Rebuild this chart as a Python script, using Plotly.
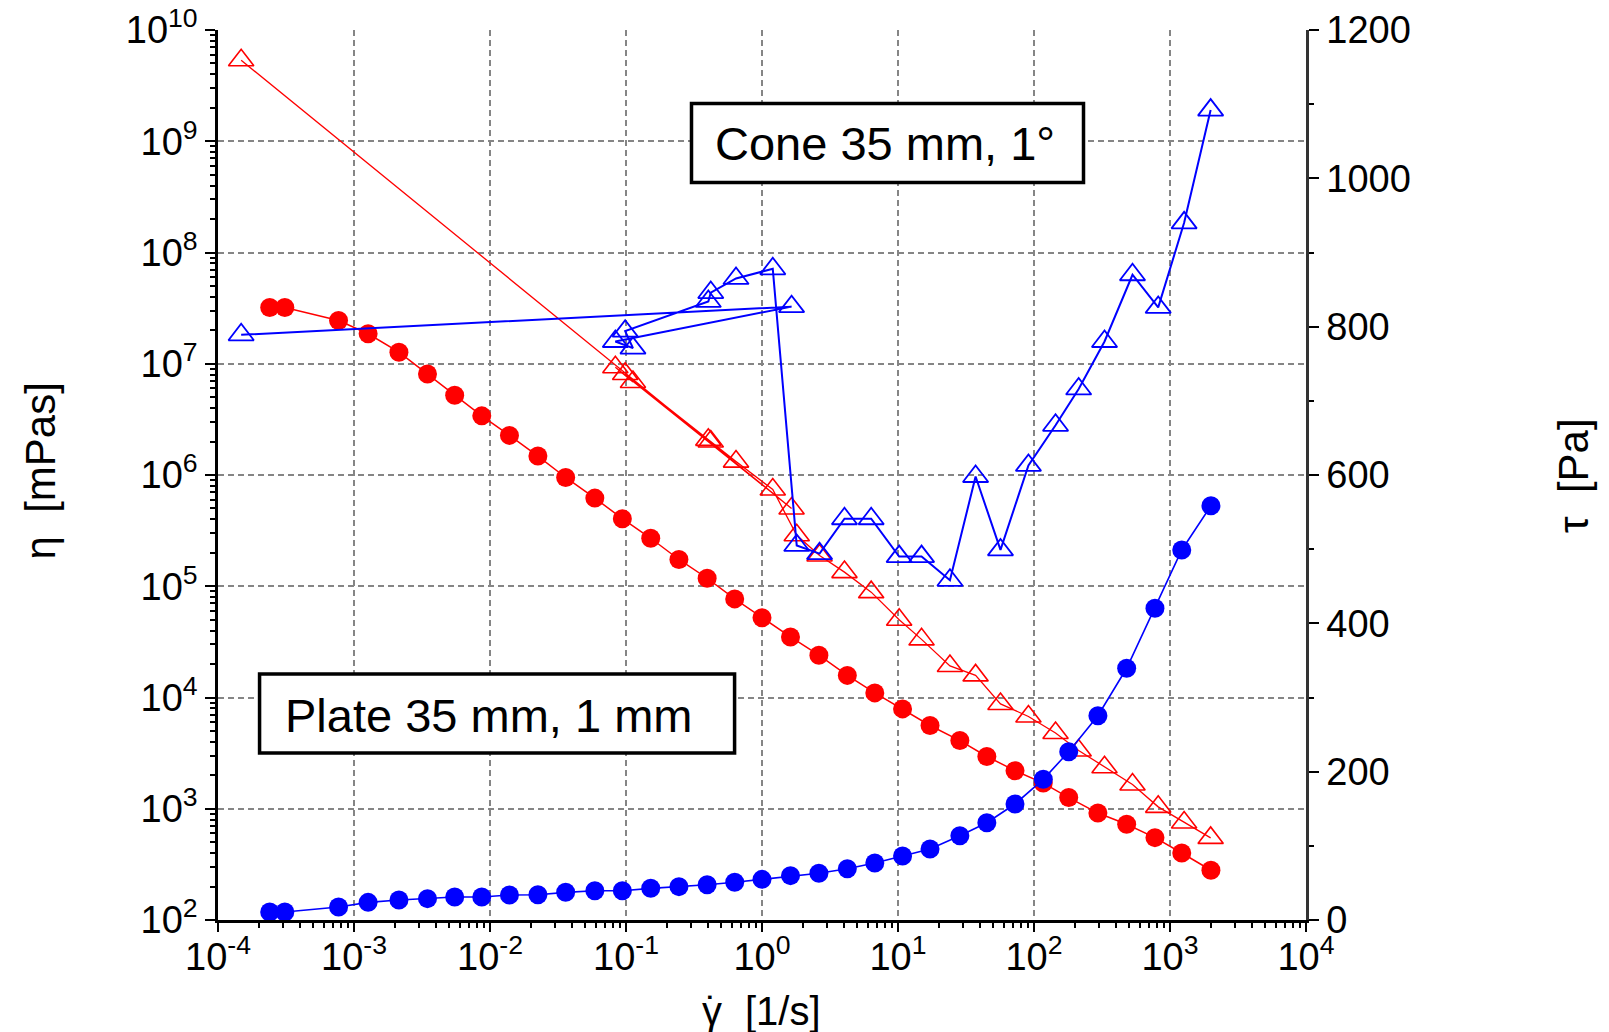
import plotly.graph_objects as go

# ---------------- data ----------------
# Plate 35 mm, 1 mm (shared shear rates)
plate_rate = [2.4e-4, 3.1e-4, 7.7e-4, 1.27e-3, 2.14e-3, 3.47e-3, 5.5e-3, 8.7e-3,
              1.39e-2, 2.25e-2, 3.6e-2, 5.9e-2, 9.4e-2, 0.152, 0.245, 0.395, 0.63,
              1.0, 1.62, 2.62, 4.24, 6.75, 10.8, 17.2, 28.5, 45, 72.5, 117, 180,
              295, 480, 775, 1220, 2000]
plate_eta = [3.2e7, 3.2e7, 2.45e7, 1.86e7, 1.27e7, 8.1e6, 5.2e6, 3.4e6, 2.27e6,
             1.48e6, 9.5e5, 6.2e5, 4.05e5, 2.7e5, 1.74e5, 1.18e5, 7.7e4, 5.2e4,
             3.5e4, 2.4e4, 1.58e4, 1.1e4, 7.9e3, 5.6e3, 4.1e3, 2.95e3, 2.2e3,
             1.7e3, 1.26e3, 915, 725, 550, 400, 280]
plate_tau = [10.8, 10.8, 17.5, 23.8, 27, 28.8, 31, 31, 33.7, 34, 37.3, 39.5, 39.5,
             42.7, 45, 47.6, 50.8, 54.8, 59.8, 63, 69.2, 76.8, 86.3, 95.7, 113.7,
             131.2, 156.4, 189.7, 226.9, 275.4, 339.4, 420.3, 498.9, 558.5]

# Cone 35 mm, 1 deg (measurement order)
cone_rate = [1.48e-4, 1.65, 0.0835, 0.1125, 0.0986, 0.403, 0.420, 0.644, 1.20,
             1.80, 2.65, 4.04, 6.35, 10.2, 14.9, 24.1, 37.2, 56.7, 91, 144, 213,
             330, 530, 819, 1270, 1990]
cone_eta = [5.35e9, 5.0e5, 9.3e6, 6.85e6, 8.1e6, 2.07e6, 2.0e6, 1.32e6, 7.4e5,
            2.87e5, 1.89e5, 1.34e5, 8.85e4, 5.0e4, 3.33e4, 1.92e4, 1.58e4, 8.75e3,
            6.75e3, 4.79e3, 3.34e3, 2.36e3, 1.65e3, 1.04e3, 752, 547]
cone_tau = [789, 827, 780, 771, 794, 834, 846, 865, 878, 505, 494, 541, 541, 490,
            490, 458, 598, 499, 613, 667, 716, 780, 870, 826, 940, 1092]

x_tickvals = [1e-4, 1e-3, 1e-2, 1e-1, 1e0, 1e1, 1e2, 1e3, 1e4]
x_ticktext = ["10<sup>-4</sup>", "10<sup>-3</sup>", "10<sup>-2</sup>", "10<sup>-1</sup>",
              "10<sup>0</sup>", "10<sup>1</sup>", "10<sup>2</sup>", "10<sup>3</sup>",
              "10<sup>4</sup>"]
y_tickvals = [1e2, 1e3, 1e4, 1e5, 1e6, 1e7, 1e8, 1e9, 1e10]
y_ticktext = ["10<sup>2</sup>", "10<sup>3</sup>", "10<sup>4</sup>", "10<sup>5</sup>",
              "10<sup>6</sup>", "10<sup>7</sup>", "10<sup>8</sup>", "10<sup>9</sup>",
              "10<sup>10</sup>"]
y2_tickvals = [0, 200, 400, 600, 800, 1000, 1200]

RED = "#ff0000"
BLUE = "#0000ff"
FONT = "Liberation Sans, Arial, sans-serif"

fig = go.Figure()

fig.add_trace(go.Scatter(x=cone_rate, y=cone_tau, yaxis="y2", mode="lines+markers",
                         line=dict(color=BLUE, width=2),
                         marker=dict(symbol="triangle-up-open", size=22, color=BLUE,
                                     line=dict(width=1.8, color=BLUE)),
                         showlegend=False))
fig.add_trace(go.Scatter(x=plate_rate, y=plate_tau, yaxis="y2", mode="lines+markers",
                         line=dict(color=BLUE, width=1.6),
                         marker=dict(symbol="circle", size=19, color=BLUE,
                                     line=dict(width=0)),
                         showlegend=False))
fig.add_trace(go.Scatter(x=cone_rate, y=cone_eta, mode="lines+markers",
                         line=dict(color=RED, width=1.3),
                         marker=dict(symbol="triangle-up-open", size=22, color=RED,
                                     line=dict(width=1.6, color=RED)),
                         showlegend=False))
fig.add_trace(go.Scatter(x=plate_rate, y=plate_eta, mode="lines+markers",
                         line=dict(color=RED, width=1.5),
                         marker=dict(symbol="circle", size=19, color=RED,
                                     line=dict(width=0)),
                         showlegend=False))

grid = dict(showgrid=True, gridcolor="#858585", gridwidth=1.5, griddash="6px,4px")

fig.update_layout(
    width=1609, height=1032,
    margin=dict(l=218, r=303, t=30, b=112, autoexpand=False),
    paper_bgcolor="white", plot_bgcolor="white",
    font=dict(family=FONT, color="black", size=38),
    xaxis=dict(type="log", range=[-4, 4], tickvals=x_tickvals, ticktext=x_ticktext,
               ticks="outside", ticklen=9, tickwidth=2, tickcolor="black",
               showline=True, linecolor="black", linewidth=2.5, zeroline=False,
               automargin=False, ticklabelstandoff=-7,
               minor=dict(ticks="outside", ticklen=5, tickcolor="black", tickwidth=1.5,
                          dtick="D1", showgrid=False),
               tickfont=dict(size=38), **grid),
    yaxis=dict(type="log", range=[2, 10], tickvals=y_tickvals, ticktext=y_ticktext,
               ticks="outside", ticklen=10, tickwidth=2, tickcolor="black",
               showline=True, linecolor="black", linewidth=2.5, zeroline=False,
               automargin=False,
               minor=dict(ticks="outside", ticklen=5, tickcolor="black", tickwidth=1.5,
                          dtick="D1", showgrid=False),
               tickfont=dict(size=38), **grid),
    yaxis2=dict(overlaying="y", side="right", range=[0, 1200], tickvals=y2_tickvals,
                ticks="outside", ticklen=10, tickwidth=2, tickcolor="black",
                showline=True, linecolor="#333333", linewidth=2.5, zeroline=False,
                showgrid=False, automargin=False,
                minor=dict(ticks="outside", ticklen=5, tickcolor="black", tickwidth=1.5,
                           dtick=100, showgrid=False),
                tickfont=dict(size=38)),
)

# boxes
fig.add_shape(type="rect", xref="paper", yref="paper", x0=0.4352, x1=0.7955,
              y0=0.8287, y1=0.9174, line=dict(color="black", width=3.5),
              fillcolor="white", layer="above")
fig.add_shape(type="rect", xref="paper", yref="paper", x0=0.0382, x1=0.4748,
              y0=0.1876, y1=0.2764, line=dict(color="black", width=3.5),
              fillcolor="white", layer="above")

fig.add_annotation(text="Cone 35 mm, 1°", xref="paper", yref="paper", x=0.6135, y=0.8720,
                   showarrow=False, font=dict(size=47), xanchor="center", yanchor="middle")
fig.add_annotation(text="Plate 35 mm, 1 mm", xref="paper", yref="paper", x=0.2482, y=0.2300,
                   showarrow=False, font=dict(size=47), xanchor="center", yanchor="middle")

# axis titles
fig.add_annotation(text="η  [mPas]", xref="paper", yref="paper", x=-0.1627, y=0.505,
                   textangle=-90, showarrow=False, font=dict(size=42),
                   xanchor="center", yanchor="middle")
fig.add_annotation(text="τ  [Pa]", xref="paper", yref="paper", x=1.2454, y=0.5,
                   textangle=-90, showarrow=False, font=dict(size=42),
                   xanchor="center", yanchor="middle")
fig.add_annotation(text="γ", xref="paper", yref="paper", x=0.454, y=-0.1022,
                   showarrow=False, font=dict(size=40),
                   xanchor="center", yanchor="middle")
fig.add_annotation(text="\u02d9", xref="paper", yref="paper", x=0.454, y=-0.1022,
                   showarrow=False, font=dict(size=40),
                   xanchor="center", yanchor="middle")
fig.add_annotation(text="[1/s]", xref="paper", yref="paper", x=0.4825, y=-0.1022,
                   showarrow=False, font=dict(size=40),
                   xanchor="left", yanchor="middle")

fig.write_html("out.html")
